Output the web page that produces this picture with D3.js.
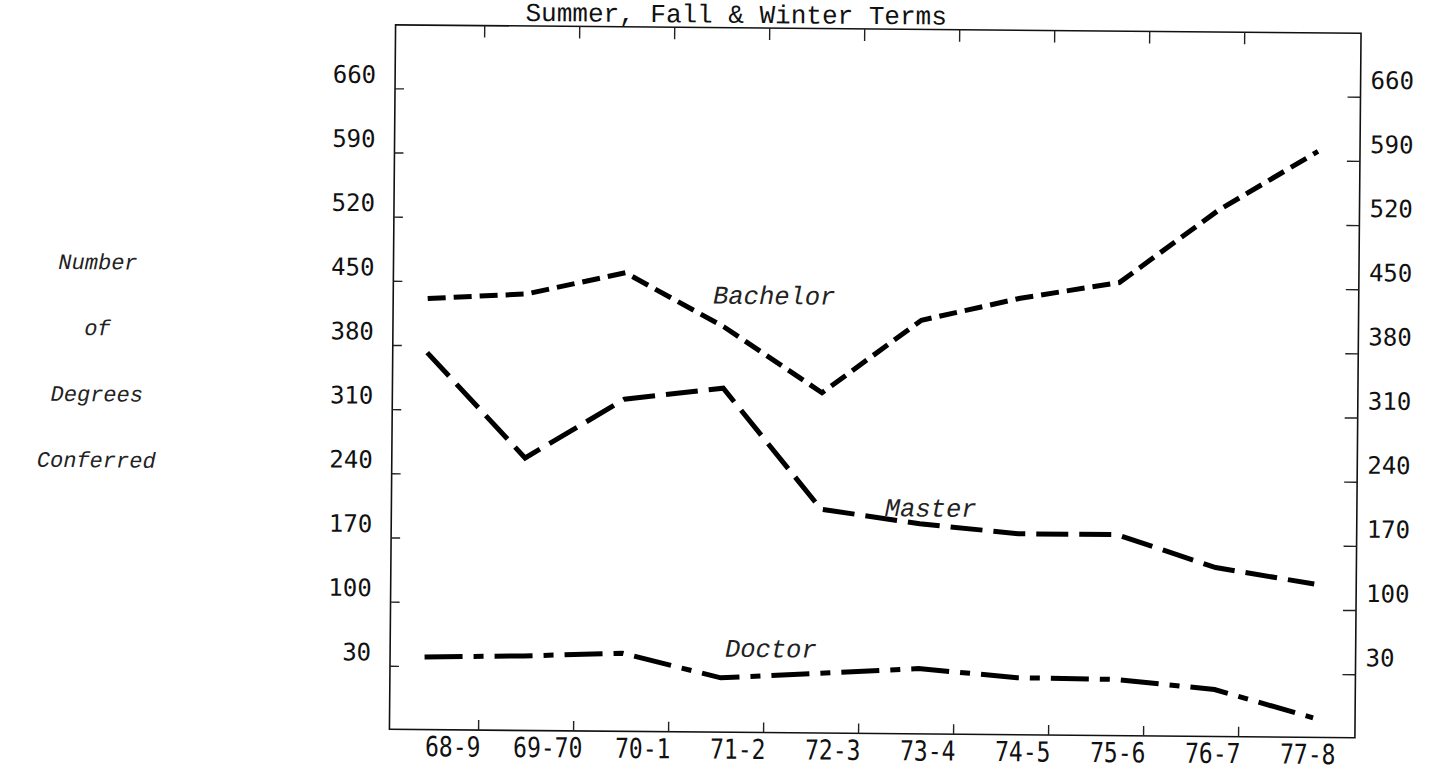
<!DOCTYPE html>
<html>
<head>
<meta charset="utf-8">
<script src="https://cdn.jsdelivr.net/npm/d3@7"></script>
<style>
  body { margin: 0; background: #fff; }
  svg { display: block; }
</style>
</head>
<body>
<svg width="1431" height="773"></svg>
<script>
// values
const years = ["68-9", "69-70", "70-1", "71-2", "72-3", "73-4", "74-5", "75-6", "76-7", "77-8"];
const bachelor = [431, 437, 461, 403, 332, 412, 437, 455, 535, 600];
const master = [372, 258, 323, 336, 205, 190, 180, 180, 145, 128];
const doctor = [40, 42, 46, 20, 26, 32, 23, 22, 12, -18];
const yTicks = [30, 100, 170, 240, 310, 380, 450, 520, 590, 660];
const yTitle = ["Number", "of", "Degrees", "Conferred"];

const frame = {left: 392.5, right: 1358, top: 29, bottom: 733.5};

const svg = d3.select("svg");
// the scan is slightly tilted
const g = svg.append("g").attr("transform", "rotate(0.5, 872, 380)");

const y = d3.scaleLinear().domain([30, 660]).range([670, 92.5]);
const x = d3.scalePoint().domain(years).range([427, 1316]);
const xLab = d3.scalePoint().domain(years).range([456, 1311]);

const mono = "'DejaVu Sans Mono', monospace";
const courier = "'Liberation Mono', 'Courier New', monospace";

// frame
g.append("rect")
    .attr("x", frame.left)
    .attr("y", frame.top)
    .attr("width", frame.right - frame.left)
    .attr("height", frame.bottom - frame.top)
    .attr("fill", "none")
    .attr("stroke", "#111")
    .attr("stroke-width", 1.6);

// left axis, ticks pointing in
const left = g.append("g")
    .attr("transform", `translate(${frame.left},0)`)
    .call(d3.axisLeft(y).tickValues(yTicks).tickSizeInner(-9).tickSizeOuter(0).tickPadding(19));

// right axis
const right = g.append("g")
    .attr("transform", `translate(${frame.right},0)`)
    .call(d3.axisRight(y).tickValues(yTicks).tickSizeInner(-13).tickSizeOuter(0).tickPadding(10));

[left, right].forEach((a, i) => {
    a.select(".domain").remove();
    a.selectAll(".tick line").attr("stroke", "#222").attr("stroke-width", 1.4);
    a.selectAll(".tick text")
        .attr("font-family", mono)
        .attr("font-size", 24)
        .attr("fill", "#111")
        .attr("dy", i === 0 ? "-0.24em" : "-0.36em");
});

// top and bottom tick marks sit between the year columns
const gapTicks = years.slice(0, -1);
const tickX = d => xLab(d) + xLab.step() * 0.27;

g.append("g").selectAll("line.top")
    .data(gapTicks)
    .join("line")
    .attr("x1", tickX).attr("x2", tickX)
    .attr("y1", frame.top).attr("y2", frame.top + 12)
    .attr("stroke", "#222").attr("stroke-width", 1.4);

g.append("g").selectAll("line.bottom")
    .data(gapTicks)
    .join("line")
    .attr("x1", tickX).attr("x2", tickX)
    .attr("y1", frame.bottom).attr("y2", frame.bottom - 10)
    .attr("stroke", "#222").attr("stroke-width", 1.4);

// year labels, typed in a tall narrow face
g.append("g").selectAll("text")
    .data(years)
    .join("text")
    .attr("transform", d => `translate(${xLab(d)},760) scale(1,1.2)`)
    .attr("text-anchor", "middle")
    .attr("font-family", mono)
    .attr("font-size", 23)
    .attr("fill", "#111")
    .text(d => d);

// title sits on the top edge
g.append("text")
    .attr("x", 733)
    .attr("y", 24)
    .attr("text-anchor", "middle")
    .attr("font-family", courier)
    .attr("font-size", 26)
    .attr("fill", "#111")
    .text("Summer, Fall & Winter Terms");

// stacked y title in the left margin
g.append("g").selectAll("text")
    .data(yTitle)
    .join("text")
    .attr("x", 97)
    .attr("y", (d, i) => 276 + i * 66)
    .attr("text-anchor", "middle")
    .attr("font-family", courier)
    .attr("font-style", "italic")
    .attr("font-size", 22)
    .attr("fill", "#222")
    .text(d => d);

// series
const series = [
    {name: "Bachelor", values: bachelor, dash: "18,8", lx: x("71-2") - 11, ly: 305},
    {name: "Master", values: master, dash: "32,11", lx: x("73-4") - 35, ly: 516},
    {name: "Doctor", values: doctor, dash: "38,11,10,11", lx: x("71-2") + 4, ly: 658}
];

const line = d3.line()
    .x((d, i) => x(years[i]))
    .y(d => y(d));

g.append("g").selectAll("path")
    .data(series)
    .join("path")
    .attr("d", d => line(d.values))
    .attr("fill", "none")
    .attr("stroke", "#000")
    .attr("stroke-width", 5)
    .attr("stroke-linecap", "butt")
    .attr("stroke-dasharray", d => d.dash);

g.append("g").selectAll("text")
    .data(series)
    .join("text")
    .attr("x", d => d.lx)
    .attr("y", d => d.ly)
    .attr("font-family", courier)
    .attr("font-style", "italic")
    .attr("font-size", 25.5)
    .attr("fill", "#222")
    .text(d => d.name);
</script>
</body>
</html>
